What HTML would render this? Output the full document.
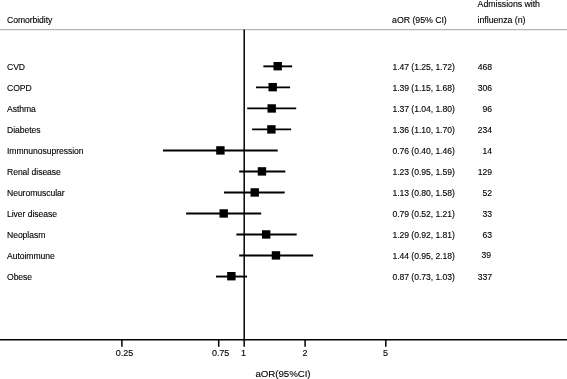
<!DOCTYPE html>
<html><head><meta charset="utf-8"><title>Forest plot</title>
<style>
html,body{margin:0;padding:0;background:#fff}
svg{display:block}
text{font-family:"Liberation Sans",Arial,Helvetica,sans-serif;font-size:8.6px;fill:#000;stroke:#000;stroke-width:0.12px;letter-spacing:-0.05px}
</style></head><body>
<svg width="567" height="379" viewBox="0 0 567 379">
<rect width="567" height="379" fill="#fff"/>
<line x1="0" y1="29.7" x2="567" y2="29.7" stroke="#a4a4a4" stroke-width="1"/>
<line x1="244.2" y1="29.5" x2="244.2" y2="340" stroke="#000" stroke-width="1.5"/>
<line x1="0" y1="339.7" x2="567" y2="339.7" stroke="#000" stroke-width="1.4"/>
<line x1="121.9" y1="339.7" x2="121.9" y2="346.8" stroke="#000" stroke-width="1.5"/>
<text x="124.50" y="356.3" text-anchor="middle" style="font-size:9px">0.25</text>
<line x1="218.7" y1="339.7" x2="218.7" y2="346.8" stroke="#000" stroke-width="1.5"/>
<text x="220.60" y="356.3" text-anchor="middle" style="font-size:9px">0.75</text>
<line x1="244.2" y1="339.7" x2="244.2" y2="346.8" stroke="#000" stroke-width="1.5"/>
<text x="243.50" y="356.3" text-anchor="middle" style="font-size:9px">1</text>
<line x1="305.1" y1="339.7" x2="305.1" y2="346.8" stroke="#000" stroke-width="1.5"/>
<text x="305.00" y="356.3" text-anchor="middle" style="font-size:9px">2</text>
<line x1="385.8" y1="339.7" x2="385.8" y2="346.8" stroke="#000" stroke-width="1.5"/>
<text x="385.45" y="356.3" text-anchor="middle" style="font-size:9px">5</text>
<text x="7" y="22.8">Comorbidity</text>
<text x="392.1" y="23" style="font-size:8.8px">aOR (95% CI)</text>
<text x="477.6" y="7.1" style="font-size:8.8px">Admissions with</text>
<text x="477.6" y="23.3" style="font-size:8.8px">influenza (n)</text>
<text x="283.0" y="377" text-anchor="middle" style="font-size:9.7px">aOR(95%CI)</text>
<text x="7" y="69.7">CVD</text>
<line x1="263.4" y1="66.35" x2="292.2" y2="66.35" stroke="#000" stroke-width="1.9"/>
<rect x="273.50" y="62.00" width="8.4" height="8.4" fill="#000"/>
<text x="392.5" y="69.7">1.47 (1.25, 1.72)</text>
<text x="491.9" y="69.7" text-anchor="end">468</text>
<text x="7" y="90.8">COPD</text>
<line x1="256.0" y1="87.37" x2="290.1" y2="87.37" stroke="#000" stroke-width="1.9"/>
<rect x="268.50" y="82.96" width="8.4" height="8.4" fill="#000"/>
<text x="392.5" y="90.8">1.39 (1.15, 1.68)</text>
<text x="491.9" y="90.8" text-anchor="end">306</text>
<text x="7" y="111.8">Asthma</text>
<line x1="247.2" y1="108.39" x2="296.2" y2="108.39" stroke="#000" stroke-width="1.9"/>
<rect x="267.50" y="104.25" width="8.4" height="8.4" fill="#000"/>
<text x="392.5" y="111.8">1.37 (1.04, 1.80)</text>
<text x="491.9" y="111.8" text-anchor="end">96</text>
<text x="7" y="132.9">Diabetes</text>
<line x1="252.1" y1="129.41" x2="291.1" y2="129.41" stroke="#000" stroke-width="1.9"/>
<rect x="267.20" y="125.20" width="8.4" height="8.4" fill="#000"/>
<text x="392.5" y="132.9">1.36 (1.10, 1.70)</text>
<text x="491.9" y="132.9" text-anchor="end">234</text>
<text x="7" y="153.9">Immnunosupression</text>
<line x1="163.0" y1="150.43" x2="277.7" y2="150.43" stroke="#000" stroke-width="1.9"/>
<rect x="216.20" y="146.20" width="8.4" height="8.4" fill="#000"/>
<text x="392.5" y="153.9">0.76 (0.40, 1.46)</text>
<text x="491.9" y="153.9" text-anchor="end">14</text>
<text x="7" y="175.0">Renal disease</text>
<line x1="239.2" y1="171.45" x2="285.3" y2="171.45" stroke="#000" stroke-width="1.9"/>
<rect x="257.75" y="167.20" width="8.4" height="8.4" fill="#000"/>
<text x="392.5" y="175.0">1.23 (0.95, 1.59)</text>
<text x="491.9" y="175.0" text-anchor="end">129</text>
<text x="7" y="196.1">Neuromuscular</text>
<line x1="224.0" y1="192.47" x2="284.7" y2="192.47" stroke="#000" stroke-width="1.9"/>
<rect x="250.54" y="188.25" width="8.4" height="8.4" fill="#000"/>
<text x="392.5" y="196.1">1.13 (0.80, 1.58)</text>
<text x="491.9" y="196.1" text-anchor="end">52</text>
<text x="7" y="217.1">Liver disease</text>
<line x1="186.1" y1="213.49" x2="261.2" y2="213.49" stroke="#000" stroke-width="1.9"/>
<rect x="219.50" y="209.25" width="8.4" height="8.4" fill="#000"/>
<text x="392.5" y="217.1">0.79 (0.52, 1.21)</text>
<text x="491.9" y="217.1" text-anchor="end">33</text>
<text x="7" y="238.2">Neoplasm</text>
<line x1="236.4" y1="234.51" x2="296.7" y2="234.51" stroke="#000" stroke-width="1.9"/>
<rect x="261.96" y="230.25" width="8.4" height="8.4" fill="#000"/>
<text x="392.5" y="238.2">1.29 (0.92, 1.81)</text>
<text x="491.9" y="238.2" text-anchor="end">63</text>
<text x="7" y="259.2">Autoimmune</text>
<line x1="239.2" y1="255.53" x2="313.1" y2="255.53" stroke="#000" stroke-width="1.9"/>
<rect x="271.75" y="251.20" width="8.4" height="8.4" fill="#000"/>
<text x="392.5" y="259.2">1.44 (0.95, 2.18)</text>
<text x="491.0" y="258.1" text-anchor="end">39</text>
<text x="7" y="280.3">Obese</text>
<line x1="216.0" y1="276.55" x2="247.0" y2="276.55" stroke="#000" stroke-width="1.9"/>
<rect x="227.17" y="272.00" width="8.4" height="8.4" fill="#000"/>
<text x="392.5" y="280.3">0.87 (0.73, 1.03)</text>
<text x="491.9" y="280.3" text-anchor="end">337</text>
</svg>
</body></html>
